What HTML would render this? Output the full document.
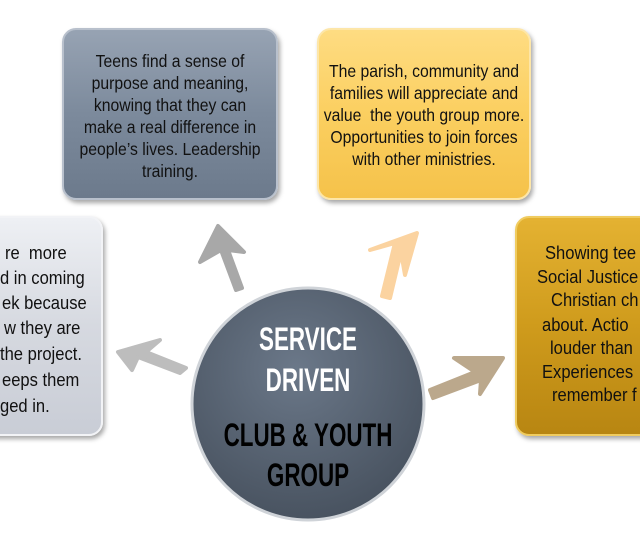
<!DOCTYPE html>
<html><head><meta charset="utf-8"><style>
body{margin:0;width:640px;height:540px;overflow:hidden;background:#fff;position:relative;font-family:"Liberation Sans",sans-serif}
.box{position:absolute;border-radius:14px;box-shadow:2px 3px 5px rgba(0,0,0,.35);box-sizing:border-box;overflow:hidden}
.tx{position:absolute;white-space:nowrap;font-size:17.5px;line-height:22px;color:#111;text-align:center;transform:scaleX(.9);}
.l{position:absolute;white-space:nowrap;font-size:18px;color:#111;transform:scaleX(.92);transform-origin:0 50%;line-height:20px}
.t{position:absolute;left:0;width:616px;text-align:center;font-weight:bold;font-size:32px;transform:scaleX(.7);}
</style></head><body>
<div class="box" style="left:62px;top:28px;width:216px;height:172px;background:linear-gradient(#97a3b3,#7c8a9c 50%,#6c7a8c);border:2px solid #b8c0cc;">
<div class="tx" style="left:-40px;width:292px;top:20px">Teens find a sense of<br>purpose and meaning,<br>knowing that they can<br>make a real difference in<br>people’s lives. Leadership<br>training.</div></div>
<div class="box" style="left:317px;top:28px;width:214px;height:172px;background:linear-gradient(#fedc82,#fbcf60 50%,#f5c24a);border:2px solid #fde6a8;">
<div class="tx" style="left:-40px;width:290px;top:30px">The parish, community and<br>families will appreciate and<br>value &nbsp;the youth group more.<br>Opportunities to join forces<br>with other ministries.</div></div>
<div class="box" style="left:-120px;top:216px;width:223px;height:220px;background:linear-gradient(#eef0f4,#d6d9e0 50%,#c9cdd6);border:2px solid #f2f3f6;"></div>
<div class="l" style="left:5px;top:243px">re &nbsp;more</div>
<div class="l" style="left:0px;top:268px">d in coming</div>
<div class="l" style="left:2px;top:293px">ek because</div>
<div class="l" style="left:4px;top:318px">w they are</div>
<div class="l" style="left:0px;top:344px">the project.</div>
<div class="l" style="left:2px;top:370px">eeps them</div>
<div class="l" style="left:0px;top:396px">ged in.</div>
<div class="box" style="left:515px;top:216px;width:240px;height:220px;background:linear-gradient(#e4b232,#cf9b1c 50%,#b88612);border:2px solid #f0cc60;"></div>
<div class="l" style="left:545px;top:243px">Showing tee</div>
<div class="l" style="left:537px;top:267px">Social Justice</div>
<div class="l" style="left:551px;top:290px">Christian ch</div>
<div class="l" style="left:542px;top:315px">about. Actio</div>
<div class="l" style="left:550px;top:338px">louder than</div>
<div class="l" style="left:542px;top:362px">Experiences</div>
<div class="l" style="left:552px;top:385px">remember f</div>
<svg width="640" height="540" style="position:absolute;left:0;top:0">
<defs><radialGradient id="g" cx="45%" cy="35%" r="70%"><stop offset="0" stop-color="#6b7889"/><stop offset="1" stop-color="#46505d"/></radialGradient></defs>
<path d="M236,290 L221,250 L200,262 L218,226 L244,252 L228,250 L242,288Z" fill="#a8a8a8" stroke="#a8a8a8" stroke-width="4" stroke-linejoin="round"/>
<path d="M382,296 L395,243 L370,250 L417,233 L405,275 L401,252 L390,298Z" fill="#fbd3a0" stroke="#fbd3a0" stroke-width="4" stroke-linejoin="round"/>
<path d="M180,373 L138,357 L132,370 L118,352 L160,340 L146,352 L186,368Z" fill="#bdbdbd" stroke="#bdbdbd" stroke-width="4" stroke-linejoin="round"/>
<path d="M430,390 L475,372 L454,358 L503,358 L480,394 L481,380 L433,398Z" fill="#bba88c" stroke="#bba88c" stroke-width="4" stroke-linejoin="round"/>
<circle cx="308" cy="404" r="116" fill="url(#g)" stroke="#cfd3d8" stroke-width="3"/>
</svg>
<div class="t" style="top:321px;color:#fff">SERVICE</div>
<div class="t" style="top:362px;color:#fff">DRIVEN</div>
<div class="t" style="top:417px;color:#000">CLUB &amp; YOUTH</div>
<div class="t" style="top:457px;color:#000">GROUP</div>
</body></html>
